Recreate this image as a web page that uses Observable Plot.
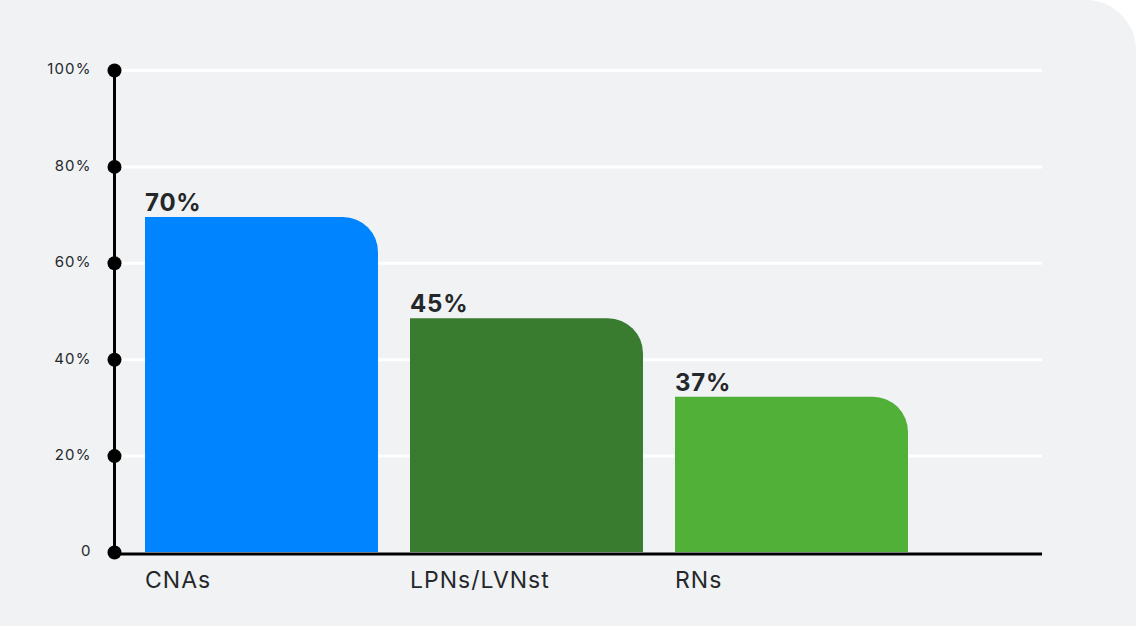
<!DOCTYPE html>
<html>
<head>
<meta charset="utf-8">
<script src="https://cdn.jsdelivr.net/npm/d3@7"></script>
<script src="https://cdn.jsdelivr.net/npm/@observablehq/plot@0.6"></script>
<style>
  html, body { margin: 0; padding: 0; background: #ffffff; }
  #wrap { width: 1136px; height: 626px; background: #f1f2f4; border-radius: 0 50px 0 0; overflow: hidden; }
  #wrap svg { display: block; }
</style>
</head>
<body>
<div id="wrap"></div>
<script>
const categories = ["CNAs", "LPNs/LVNst", "RNs"];
const barValues = [69.5, 48.5, 32.2];
const valueLabels = ["70%", "45%", "37%"];
const colors = ["#0084ff", "#3a7c2f", "#50b038"];
const yTicks = [0, 20, 40, 60, 80, 100];
const yTickLabels = ["0", "20%", "40%", "60%", "80%", "100%"];

const data = categories.map((c, i) => ({category: c, value: barValues[i], label: valueLabels[i], color: colors[i]}));
const font = "Inter, 'DejaVu Sans', sans-serif";

const chart = Plot.plot({
  width: 1136,
  height: 626,
  marginTop: 70,
  marginBottom: 74,
  marginLeft: 114,
  marginRight: 94,
  style: {background: "transparent", fontFamily: font, color: "#25282b"},
  x: {domain: categories, range: [144, 910], paddingInner: 0.12, paddingOuter: 0, axis: null},
  y: {domain: [0, 100], axis: null},
  marks: [
    Plot.ruleY(yTicks.filter(d => d > 0), {stroke: "#ffffff", strokeWidth: 3}),
    Plot.barY(data, {x: "category", y: "value", fill: "color", rx2y1: 35}),
    Plot.ruleY([0], {stroke: "#000", strokeWidth: 3, dy: 1.5}),
    Plot.frame({anchor: "left", stroke: "#000", strokeWidth: 3}),
    Plot.dot(yTicks, {y: d => d, frameAnchor: "left", r: 7, fill: "#000", stroke: null}),
    Plot.text(yTicks, {y: d => d, text: (d, i) => yTickLabels[i], frameAnchor: "left", dx: -23, textAnchor: "end", fontSize: 15, fill: "#25282b", dy: -1}),
    Plot.text(data, {x: "category", y: "value", text: "label", textAnchor: "start", dx: -117, dy: -14, fontSize: 24, fontWeight: 700, fill: "#25282b"}),
    Plot.text(data, {x: "category", text: "category", frameAnchor: "bottom", textAnchor: "start", dx: -117, dy: 35, fontSize: 23, fill: "#25282b"})
  ]
});
const textGroups = chart.querySelectorAll('g[aria-label="text"]');
const spacing = ["1.1px", "0.8px", "1px"];
textGroups.forEach((g, i) => g.setAttribute("letter-spacing", spacing[i] || "0px"));
document.getElementById("wrap").appendChild(chart);
</script>
</body>
</html>
